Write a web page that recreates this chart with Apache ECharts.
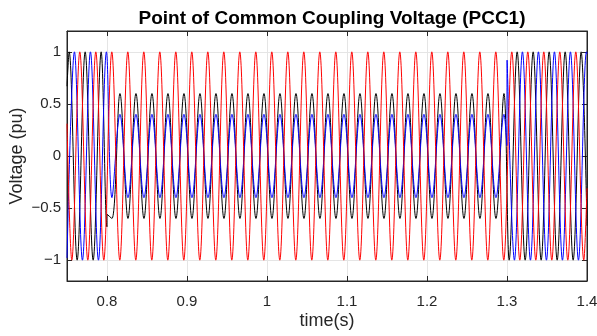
<!DOCTYPE html>
<html>
<head>
<meta charset="utf-8">
<script src="https://cdn.jsdelivr.net/npm/echarts@6/dist/echarts.min.js"></script>
<style>
  html, body { margin: 0; padding: 0; background: #fff; }
  #chart { width: 597px; height: 336px; }
</style>
</head>
<body>
<div id="chart"></div>
<script>
// waveform turning points [time (s), voltage (pu)]
const phaseA = [
  [0.75,0.31],[0.756,-1],[0.766,1],[0.776,-1],[0.786,1],[0.796,-1],[0.806,1],[0.816,-1],[0.826,1],[0.836,-1],
  [0.846,1],[0.856,-1],[0.866,1],[0.876,-1],[0.886,1],[0.896,-1],[0.906,1],[0.916,-1],[0.926,1],[0.936,-1],
  [0.946,1],[0.956,-1],[0.966,1],[0.976,-1],[0.986,1],[0.996,-1],[1.006,1],[1.016,-1],[1.026,1],[1.036,-1],
  [1.046,1],[1.056,-1],[1.066,1],[1.076,-1],[1.086,1],[1.096,-1],[1.106,1],[1.116,-1],[1.126,1],[1.136,-1],
  [1.146,1],[1.156,-1],[1.166,1],[1.176,-1],[1.186,1],[1.196,-1],[1.206,1],[1.216,-1],[1.226,1],[1.236,-1],
  [1.246,1],[1.256,-1],[1.266,1],[1.276,-1],[1.286,1],[1.296,-1],[1.306,1],[1.316,-1],[1.326,1],[1.336,-1],
  [1.346,1],[1.356,-1],[1.366,1],[1.376,-1],[1.386,1],[1.396,-1],[1.4,-0.31]
]
const phaseB = [
  [0.75,0.67],[0.7527,1],[0.7627,-1],[0.7727,1],[0.7827,-1],[0.7927,1],[0.7999,-0.68],[0.8001,-0.56],
  [0.8062,-0.6],[0.8162,0.6],[0.8262,-0.6],[0.8362,0.6],[0.8462,-0.6],[0.8562,0.6],[0.8662,-0.6],[0.8762,0.6],
  [0.8862,-0.6],[0.8962,0.6],[0.9062,-0.6],[0.9162,0.6],[0.9262,-0.6],[0.9362,0.6],[0.9462,-0.6],[0.9562,0.6],
  [0.9662,-0.6],[0.9762,0.6],[0.9862,-0.6],[0.9962,0.6],[1.0062,-0.6],[1.0162,0.6],[1.0262,-0.6],[1.0362,0.6],
  [1.0462,-0.6],[1.0562,0.6],[1.0662,-0.6],[1.0762,0.6],[1.0862,-0.6],[1.0962,0.6],[1.1062,-0.6],[1.1162,0.6],
  [1.1262,-0.6],[1.1362,0.6],[1.1462,-0.6],[1.1562,0.6],[1.1662,-0.6],[1.1762,0.6],[1.1862,-0.6],[1.1962,0.6],
  [1.2062,-0.6],[1.2162,0.6],[1.2262,-0.6],[1.2362,0.6],[1.2462,-0.6],[1.2562,0.6],[1.2662,-0.6],[1.2762,0.6],
  [1.2862,-0.6],[1.2962,0.6],[1.3027,-1],[1.3127,1],[1.3227,-1],[1.3327,1],[1.3427,-1],[1.3527,1],
  [1.3627,-1],[1.3727,1],[1.3827,-1],[1.3927,1],[1.4,-0.67]
]
const phaseC = [
  [0.75,-0.98],[0.7593,1],[0.7693,-1],[0.7793,1],[0.7893,-1],[0.7993,1],
  [0.8062,-0.4],[0.8162,0.4],[0.8262,-0.4],[0.8362,0.4],[0.8462,-0.4],[0.8562,0.4],[0.8662,-0.4],[0.8762,0.4],
  [0.8862,-0.4],[0.8962,0.4],[0.9062,-0.4],[0.9162,0.4],[0.9262,-0.4],[0.9362,0.4],[0.9462,-0.4],[0.9562,0.4],
  [0.9662,-0.4],[0.9762,0.4],[0.9862,-0.4],[0.9962,0.4],[1.0062,-0.4],[1.0162,0.4],[1.0262,-0.4],[1.0362,0.4],
  [1.0462,-0.4],[1.0562,0.4],[1.0662,-0.4],[1.0762,0.4],[1.0862,-0.4],[1.0962,0.4],[1.1062,-0.4],[1.1162,0.4],
  [1.1262,-0.4],[1.1362,0.4],[1.1462,-0.4],[1.1562,0.4],[1.1662,-0.4],[1.1762,0.4],[1.1862,-0.4],[1.1962,0.4],
  [1.2062,-0.4],[1.2162,0.4],[1.2262,-0.4],[1.2362,0.4],[1.2462,-0.4],[1.2562,0.4],[1.2662,-0.4],[1.2762,0.4],
  [1.2862,-0.4],[1.2962,0.4],[1.2999,0.1],[1.3001,0.92],[1.3093,-1],[1.3193,1],[1.3293,-1],[1.3393,1],
  [1.3493,-1],[1.3593,1],[1.3693,-1],[1.3793,1],[1.3893,-1],[1.3993,1],[1.4,0.98]
]

const xTicks = [0.8, 0.9, 1, 1.1, 1.2, 1.3, 1.4]
const yTicks = [-1, -0.5, 0, 0.5, 1]

const titleText = 'Point of Common Coupling Voltage (PCC1)'
const xName = 'time(s)'
const yName = 'Voltage (pu)'

const axisColor = '#262626'
const gridColor = '#e5e5e5'
const fontFamily = 'Liberation Sans, Arial, sans-serif'

// matlab style minus sign
const tickText = v => String(v).replace('-', '\u2212')

function wave(name, data, color) {
  return {
    name: name,
    type: 'line',
    data: data,
    showSymbol: false,
    smooth: 0.36,
    lineStyle: { color: color, width: 1 },
    animation: false,
  }
}

const chart = echarts.init(document.getElementById('chart'))
chart.setOption({
  animation: false,
  title: {
    text: titleText,
    left: 327,
    textAlign: 'center',
    top: 4,
    textStyle: { fontFamily: fontFamily, fontSize: 19, fontWeight: 'bold', color: '#000' },
  },
  grid: {
    left: 67, right: 10, top: 31, bottom: 55,
    outerBoundsMode: 'none',
    show: true, borderColor: axisColor, borderWidth: 1,
  },
  xAxis: [
    {
      type: 'value',
      min: 0.75,
      max: 1.4,
      name: xName,
      nameLocation: 'middle',
      nameGap: 31,
      nameMoveOverlap: false,
      nameTextStyle: { fontFamily: fontFamily, fontSize: 18, color: axisColor },
      axisLine: { show: true, onZero: false, lineStyle: { color: axisColor } },
      axisTick: { show: true, inside: true, length: 5, customValues: xTicks, lineStyle: { color: axisColor } },
      axisLabel: { customValues: xTicks, formatter: tickText, fontFamily: fontFamily, fontSize: 15, color: axisColor, margin: 13 },
      splitLine: { show: true, lineStyle: { color: gridColor } },
    },
    {
      type: 'value',
      position: 'top',
      min: 0.75,
      max: 1.4,
      axisLine: { show: true, onZero: false, lineStyle: { color: axisColor } },
      axisTick: { show: true, inside: true, length: 5, customValues: xTicks, lineStyle: { color: axisColor } },
      axisLabel: { show: false },
      splitLine: { show: false },
    },
  ],
  yAxis: [
    {
      type: 'value',
      min: -1.2,
      max: 1.2,
      name: yName,
      nameLocation: 'middle',
      nameGap: 41,
      nameMoveOverlap: false,
      nameTextStyle: { fontFamily: fontFamily, fontSize: 18, color: axisColor },
      axisLine: { show: true, onZero: false, lineStyle: { color: axisColor } },
      axisTick: { show: true, inside: true, length: 5, customValues: yTicks, lineStyle: { color: axisColor } },
      axisLabel: { customValues: yTicks, formatter: tickText, fontFamily: fontFamily, fontSize: 15, color: axisColor, margin: 6 },
      splitLine: { show: true, lineStyle: { color: gridColor } },
    },
    {
      type: 'value',
      position: 'right',
      min: -1.2,
      max: 1.2,
      axisLine: { show: true, onZero: false, lineStyle: { color: axisColor } },
      axisTick: { show: true, inside: true, length: 5, customValues: yTicks, lineStyle: { color: axisColor } },
      axisLabel: { show: false },
      splitLine: { show: false },
    },
  ],
  series: [
    wave('Vb', phaseB, '#000000'),
    wave('Vc', phaseC, '#0000ff'),
    wave('Va', phaseA, '#ff0000'),
  ],
})
</script>
</body>
</html>
